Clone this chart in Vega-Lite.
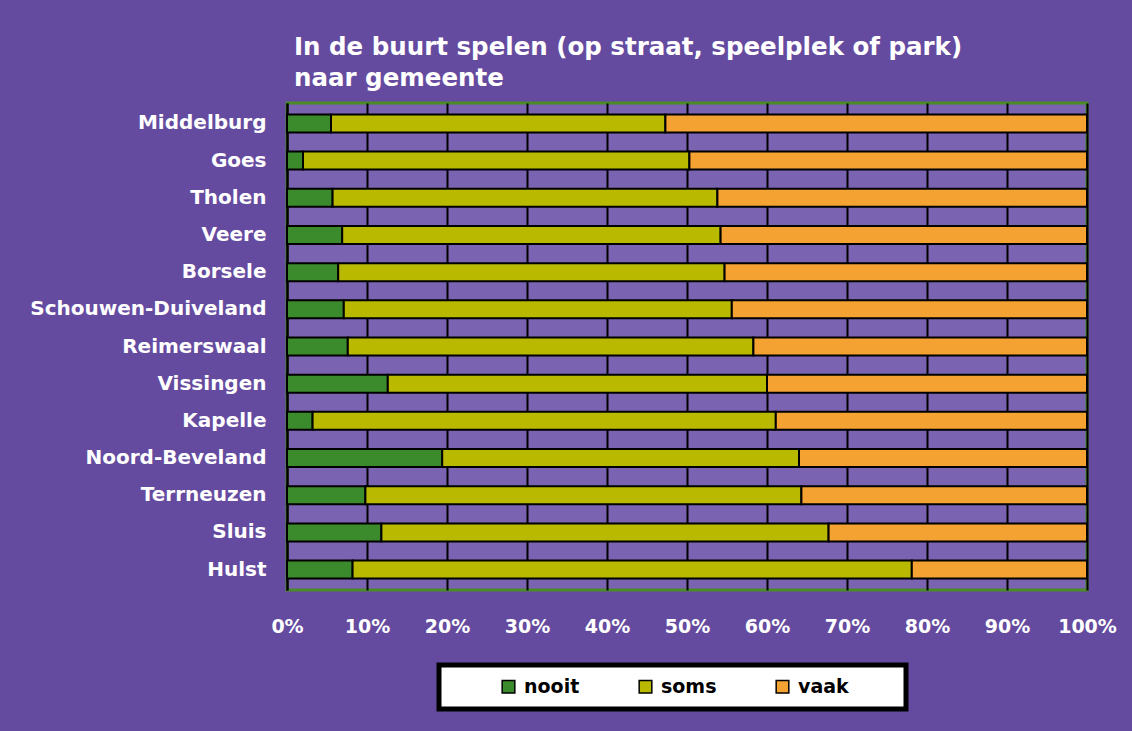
{
  "$schema": "https://vega.github.io/schema/vega-lite/v6.json",
  "autosize": {"type": "none"},
  "width": 800,
  "height": 487,
  "padding": {"left": 287, "top": 103, "right": 45, "bottom": 141},
  "background": "#654b9f",
  "title": {
    "text": ["In de buurt spelen (op straat, speelplek of park)", "naar gemeente"],
    "anchor": "start",
    "frame": "group",
    "font": "DejaVu Sans",
    "fontWeight": "bold",
    "fontSize": 24.5,
    "lineHeight": 31,
    "color": "white",
    "offset": 12,
    "dx": 7
  },
  "data": {
    "values": [
      {"gemeente": "Middelburg", "antwoord": "nooit", "pct": 5.5},
      {"gemeente": "Middelburg", "antwoord": "soms", "pct": 41.8},
      {"gemeente": "Middelburg", "antwoord": "vaak", "pct": 52.7},
      {"gemeente": "Goes", "antwoord": "nooit", "pct": 2.0},
      {"gemeente": "Goes", "antwoord": "soms", "pct": 48.3},
      {"gemeente": "Goes", "antwoord": "vaak", "pct": 49.7},
      {"gemeente": "Tholen", "antwoord": "nooit", "pct": 5.7},
      {"gemeente": "Tholen", "antwoord": "soms", "pct": 48.1},
      {"gemeente": "Tholen", "antwoord": "vaak", "pct": 46.2},
      {"gemeente": "Veere", "antwoord": "nooit", "pct": 6.9},
      {"gemeente": "Veere", "antwoord": "soms", "pct": 47.3},
      {"gemeente": "Veere", "antwoord": "vaak", "pct": 45.8},
      {"gemeente": "Borsele", "antwoord": "nooit", "pct": 6.4},
      {"gemeente": "Borsele", "antwoord": "soms", "pct": 48.3},
      {"gemeente": "Borsele", "antwoord": "vaak", "pct": 45.3},
      {"gemeente": "Schouwen-Duiveland", "antwoord": "nooit", "pct": 7.1},
      {"gemeente": "Schouwen-Duiveland", "antwoord": "soms", "pct": 48.5},
      {"gemeente": "Schouwen-Duiveland", "antwoord": "vaak", "pct": 44.4},
      {"gemeente": "Reimerswaal", "antwoord": "nooit", "pct": 7.6},
      {"gemeente": "Reimerswaal", "antwoord": "soms", "pct": 50.7},
      {"gemeente": "Reimerswaal", "antwoord": "vaak", "pct": 41.7},
      {"gemeente": "Vissingen", "antwoord": "nooit", "pct": 12.6},
      {"gemeente": "Vissingen", "antwoord": "soms", "pct": 47.4},
      {"gemeente": "Vissingen", "antwoord": "vaak", "pct": 40.0},
      {"gemeente": "Kapelle", "antwoord": "nooit", "pct": 3.2},
      {"gemeente": "Kapelle", "antwoord": "soms", "pct": 57.9},
      {"gemeente": "Kapelle", "antwoord": "vaak", "pct": 38.9},
      {"gemeente": "Noord-Beveland", "antwoord": "nooit", "pct": 19.4},
      {"gemeente": "Noord-Beveland", "antwoord": "soms", "pct": 44.6},
      {"gemeente": "Noord-Beveland", "antwoord": "vaak", "pct": 36.0},
      {"gemeente": "Terrneuzen", "antwoord": "nooit", "pct": 9.8},
      {"gemeente": "Terrneuzen", "antwoord": "soms", "pct": 54.5},
      {"gemeente": "Terrneuzen", "antwoord": "vaak", "pct": 35.7},
      {"gemeente": "Sluis", "antwoord": "nooit", "pct": 11.8},
      {"gemeente": "Sluis", "antwoord": "soms", "pct": 55.9},
      {"gemeente": "Sluis", "antwoord": "vaak", "pct": 32.3},
      {"gemeente": "Hulst", "antwoord": "nooit", "pct": 8.2},
      {"gemeente": "Hulst", "antwoord": "soms", "pct": 69.9},
      {"gemeente": "Hulst", "antwoord": "vaak", "pct": 21.9}
    ]
  },
  "mark": {"type": "bar", "size": 18, "stroke": "black", "strokeWidth": 2},
  "encoding": {
    "y": {
      "field": "gemeente",
      "type": "nominal",
      "sort": ["Middelburg", "Goes", "Tholen", "Veere", "Borsele", "Schouwen-Duiveland", "Reimerswaal", "Vissingen", "Kapelle", "Noord-Beveland", "Terrneuzen", "Sluis", "Hulst"],
      "scale": {"paddingInner": 0, "paddingOuter": 0.05},
      "axis": {
        "title": null,
        "ticks": false,
        "grid": false,
        "domain": true,
        "domainColor": "black",
        "domainWidth": 2,
        "labelFont": "DejaVu Sans",
        "labelFontWeight": "bold",
        "labelFontSize": 20,
        "labelColor": "white",
        "labelPadding": 21,
        "labelLimit": 400
      }
    },
    "x": {
      "field": "pct",
      "type": "quantitative",
      "stack": "normalize",
      "scale": {"domain": [0, 1], "nice": false},
      "axis": {
        "title": null,
        "values": [0, 0.1, 0.2, 0.3, 0.4, 0.5, 0.6, 0.7, 0.8, 0.9, 1],
        "format": ".0%",
        "ticks": false,
        "domain": false,
        "grid": true,
        "gridColor": "black",
        "gridWidth": 2,
        "gridOpacity": 1,
        "labelFont": "DejaVu Sans",
        "labelFontWeight": "bold",
        "labelFontSize": 19,
        "labelColor": "white",
        "labelPadding": 27,
        "labelFlush": false
      }
    },
    "color": {
      "field": "antwoord",
      "type": "nominal",
      "scale": {"domain": ["nooit", "soms", "vaak"], "range": ["#3b8a2b", "#b9b900", "#f4a232"]},
      "legend": {
        "orient": "none",
        "legendX": 152,
        "legendY": 562,
        "direction": "horizontal",
        "title": "\u00a0",
        "titleOrient": "left",
        "titleFontSize": 19,
        "titlePadding": 48,
        "symbolType": "square",
        "symbolSize": 160,
        "symbolStrokeColor": "black",
        "symbolStrokeWidth": 1.5,
        "symbolOpacity": 1,
        "labelFont": "DejaVu Sans",
        "labelFontWeight": "bold",
        "labelFontSize": 19,
        "labelColor": "black",
        "labelOffset": 6,
        "labelExpr": "datum.label == 'vaak' ? 'vaak\u2800\u2800\u2800' : datum.label",
        "columnPadding": 56,
        "padding": 12,
        "fillColor": "white",
        "strokeColor": "black",
        "encode": {"legend": {"update": {"strokeWidth": {"value": 5}}}}
      }
    }
  },
  "config": {
    "view": {"fill": "#7a63b0", "stroke": "#4b8b26", "strokeWidth": 3}
  }
}
